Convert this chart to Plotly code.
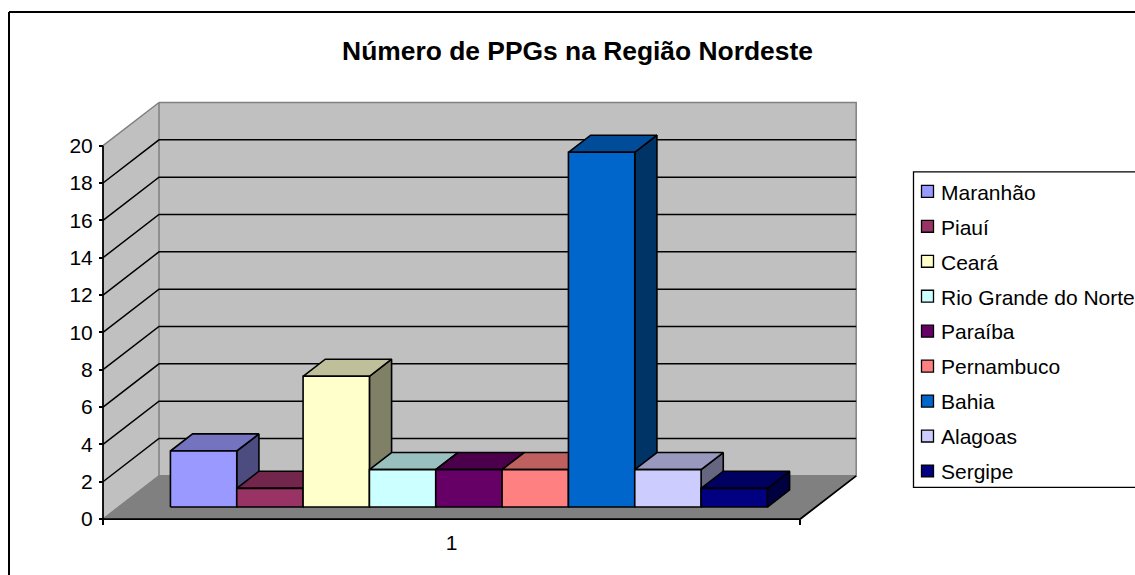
import plotly.graph_objects as go

# data
states = ['Maranhão', 'Piauí', 'Ceará', 'Rio Grande do Norte', 'Paraíba',
          'Pernambuco', 'Bahia', 'Alagoas', 'Sergipe']
ppgs = [3, 1, 7, 2, 2, 2, 19, 2, 1]
front_colors = ['#9999FF', '#993366', '#FFFFCC', '#CCFFFF', '#660066',
                '#FF8080', '#0066CC', '#CCCCFF', '#000080']
y_ticks = [0, 2, 4, 6, 8, 10, 12, 14, 16, 18, 20]
category_label = '1'

W, H = 1135, 575
FONT = 'Liberation Sans, Arial, sans-serif'

# axis scale: pixels per slot / per unit, and where zero sits on the page
SLOT_PX = 66.4
UNIT_PX = 18.8
X0_PX = 103
Y0_PX = 522.7
N_SLOTS = 10.5

# fake 3d: a depth of 1 moves a point this far along x and y
DEPTH_X = 56 / SLOT_PX
DEPTH_Y = 43.5 / UNIT_PX
BAR_D0 = 0.279
BAR_D1 = 0.675
BAR_GAP = 0.78
BAR_W = 0.999

PLOT_L, PLOT_R, PLOT_T, PLOT_B = 93, 866, 90, 530


def project(x, v, d=0):
    return x + d * DEPTH_X, v + d * DEPTH_Y


def darker(color, k):
    r, g, b = [int(color[i:i + 2], 16) for i in (1, 3, 5)]
    return f'rgb({r * k:.0f},{g * k:.0f},{b * k:.0f})'


fig = go.Figure()


def poly(points, fill=None, line='black', width=1.6):
    xs = [p[0] for p in points]
    ys = [p[1] for p in points]
    fig.add_trace(go.Scatter(
        x=xs, y=ys, mode='lines',
        fill='toself' if fill else 'none',
        fillcolor=fill,
        line=dict(color=line, width=width),
        hoverinfo='skip', showlegend=False,
    ))


top = y_ticks[-1]

# walls and floor
poly([project(0, 0, 1), project(N_SLOTS, 0, 1), project(N_SLOTS, top, 1), project(0, top, 1)],
     fill='#C0C0C0', line='#808080', width=1.5)
poly([project(0, 0), project(0, 0, 1), project(0, top, 1), project(0, top)],
     fill='#C0C0C0', line='#808080', width=1.5)
poly([project(0, 0), project(N_SLOTS, 0), project(N_SLOTS, 0, 1), project(0, 0, 1), project(0, 0)],
     fill='#808080', line='#808080', width=1)

# gridlines run along the side wall and then along the back wall
for v in y_ticks[1:-1]:
    poly([project(0, v), project(0, v, 1), project(N_SLOTS, v, 1)], width=1.5)

# front edges of the floor and the value axis line
poly([project(N_SLOTS, 0, 1), project(N_SLOTS, 0), project(0, 0), project(0, top)], width=1.8)

# bars, left to right so each one covers the side of the previous one
for i, (value, color) in enumerate(zip(ppgs, front_colors)):
    x0 = BAR_GAP + i * BAR_W
    x1 = x0 + BAR_W
    poly([project(x1, 0, BAR_D0), project(x1, 0, BAR_D1), project(x1, value, BAR_D1),
          project(x1, value, BAR_D0), project(x1, 0, BAR_D0)], fill=darker(color, 0.5))
    poly([project(x0, value, BAR_D0), project(x1, value, BAR_D0), project(x1, value, BAR_D1),
          project(x0, value, BAR_D1), project(x0, value, BAR_D0)], fill=darker(color, 0.75))
    poly([project(x0, 0, BAR_D0), project(x1, 0, BAR_D0), project(x1, value, BAR_D0),
          project(x0, value, BAR_D0), project(x0, 0, BAR_D0)], fill=color)


def px_x(px):
    return px / W


def px_y(px):
    return 1 - px / H


# outer chart frame, runs off the right and bottom of the page
shapes = [
    dict(type='line', xref='paper', yref='paper', x0=px_x(9), x1=px_x(9), y0=px_y(12), y1=px_y(H + 5),
         line=dict(color='black', width=2)),
    dict(type='line', xref='paper', yref='paper', x0=px_x(9), x1=px_x(W + 5), y0=px_y(12), y1=px_y(12),
         line=dict(color='black', width=2)),
    dict(type='rect', xref='paper', yref='paper', x0=px_x(913.5), x1=px_x(W + 5), y0=px_y(173), y1=px_y(490.7),
         line=dict(color='black', width=1.3), fillcolor='white', layer='below'),
]

# legend box by hand, the native one can't do this spacing or run off the page
annotations = []
for i, (state, color) in enumerate(zip(states, front_colors)):
    yc = 192.7 + 35.2 * i
    shapes.append(dict(type='rect', xref='paper', yref='paper',
                       x0=px_x(921.5), x1=px_x(933.5), y0=px_y(yc - 6), y1=px_y(yc + 6),
                       fillcolor=color, line=dict(color='black', width=1.3)))
    annotations.append(dict(text=state, xref='paper', yref='paper', x=px_x(940), y=px_y(yc + 0.8),
                            xanchor='left', yanchor='middle', showarrow=False, borderpad=0,
                            font=dict(family=FONT, size=21, color='black')))

fig.update_layout(
    width=W, height=H, autosize=False,
    margin=dict(l=0, r=0, t=0, b=0),
    paper_bgcolor='white', plot_bgcolor='rgba(0,0,0,0)',
    showlegend=False,
    font=dict(family=FONT, size=21, color='black'),
    title=dict(text='<b>Número de PPGs na Região Nordeste</b>',
               font=dict(family=FONT, size=26.4, color='black'),
               xref='paper', yref='paper', x=px_x(577.5), y=px_y(51),
               xanchor='center', yanchor='middle'),
    xaxis=dict(
        domain=[px_x(PLOT_L), px_x(PLOT_R)],
        range=[(PLOT_L - X0_PX) / SLOT_PX, (PLOT_R - X0_PX) / SLOT_PX],
        anchor='free', position=px_y(Y0_PX),
        showgrid=False, zeroline=False, showline=False,
        tickvals=[N_SLOTS / 2], ticktext=[category_label], ticks='', ticklabelstandoff=9,
        minor=dict(tickvals=[0, N_SLOTS], ticks='outside', ticklen=5, tickwidth=1.5,
                   tickcolor='black', showgrid=False),
    ),
    yaxis=dict(
        domain=[px_y(PLOT_B), px_y(PLOT_T)],
        range=[(Y0_PX - PLOT_B) / UNIT_PX, (Y0_PX - PLOT_T) / UNIT_PX],
        anchor='free', position=px_x(X0_PX),
        showgrid=False, zeroline=False, showline=False,
        tickvals=y_ticks, ticks='outside', ticklen=4, tickwidth=1.5, tickcolor='black',
        ticklabelstandoff=2,
    ),
    shapes=shapes,
    annotations=annotations,
)

fig.write_html('out.html', config={'displayModeBar': False},
               post_script="document.body.style.margin='0';document.body.style.overflow='hidden';")
